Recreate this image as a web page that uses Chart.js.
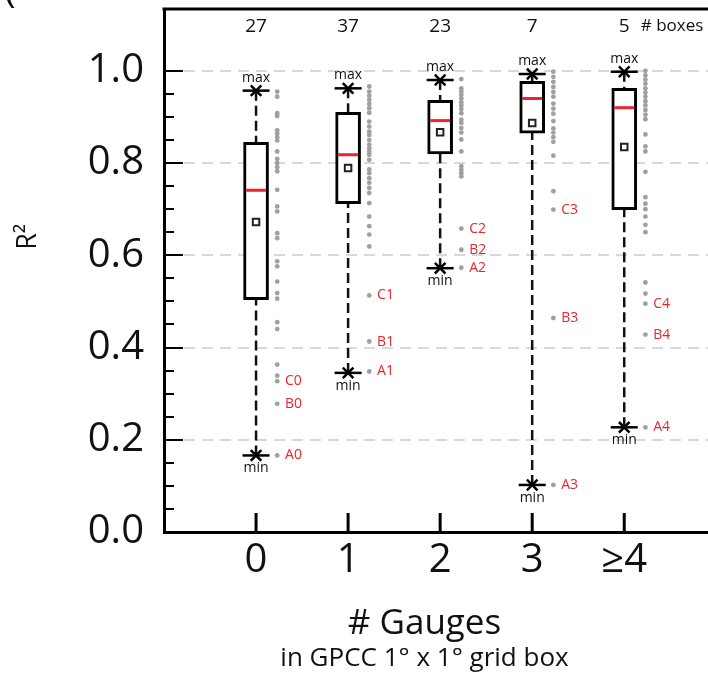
<!DOCTYPE html>
<html>
<head>
<meta charset="utf-8">
<script src="https://cdn.jsdelivr.net/npm/chart.js@4/dist/chart.umd.min.js"></script>
<style>
  html, body { margin: 0; padding: 0; background: #fff; overflow: hidden; }
  canvas { display: block; }
</style>
</head>
<body>
<canvas id="boxChart" width="708" height="682"></canvas>
<script>
"use strict";

// categories (# gauges) and number of grid boxes
var categories = [ "0", "1", "2", "3", "\u22654" ];
var boxCounts = [ 27, 37, 23, 7, 5 ];
var yTicks = [ 0.0, 0.2, 0.4, 0.6, 0.8, 1.0 ];

// box statistics
var maxVals    = [ 0.957, 0.962, 0.980, 0.993, 0.998 ];
var q3Vals     = [ 0.845, 0.910, 0.936, 0.977, 0.962 ];
var medianVals = [ 0.741, 0.818, 0.892, 0.940, 0.920 ];
var meanVals   = [ 0.672, 0.789, 0.867, 0.887, 0.835 ];
var q1Vals     = [ 0.504, 0.712, 0.820, 0.865, 0.699 ];
var minVals    = [ 0.166, 0.345, 0.572, 0.102, 0.227 ];

// individual values next to each box
var dots0 = [ 0.955, 0.944, 0.908, 0.902, 0.871, 0.864, 0.856, 0.849, 0.825, 0.809, 0.800, 0.791, 0.782, 0.742, 0.706, 0.695, 0.648, 0.637, 0.587, 0.576, 0.543, 0.518, 0.506, 0.455, 0.440, 0.363, 0.339, 0.327, 0.278, 0.166 ];
var dots1 = [ 0.966, 0.955, 0.946, 0.937, 0.928, 0.919, 0.909, 0.890, 0.879, 0.868, 0.861, 0.850, 0.840, 0.832, 0.825, 0.818, 0.807, 0.786, 0.778, 0.767, 0.757, 0.746, 0.735, 0.713, 0.684, 0.663, 0.645, 0.619, 0.513, 0.413, 0.348 ];
var dots2 = [ 0.982, 0.962, 0.955, 0.948, 0.940, 0.932, 0.925, 0.917, 0.908, 0.894, 0.887, 0.876, 0.866, 0.851, 0.825, 0.793, 0.785, 0.778, 0.771, 0.658, 0.612, 0.573 ];
var dots3 = [ 0.998, 0.987, 0.976, 0.965, 0.954, 0.944, 0.929, 0.918, 0.907, 0.891, 0.875, 0.866, 0.856, 0.846, 0.816, 0.739, 0.699, 0.464, 0.102 ];
var dots4 = [ 1.000, 0.990, 0.981, 0.972, 0.962, 0.953, 0.944, 0.934, 0.925, 0.915, 0.905, 0.895, 0.862, 0.836, 0.825, 0.781, 0.726, 0.712, 0.700, 0.684, 0.666, 0.650, 0.541, 0.517, 0.495, 0.428, 0.227 ];
var allDots = [ dots0, dots1, dots2, dots3, dots4 ];

// labelled points A, B, C
var tagA = [ 0.166, 0.348, 0.573, 0.102, 0.227 ];
var tagB = [ 0.278, 0.413, 0.612, 0.464, 0.428 ];
var tagC = [ 0.327, 0.513, 0.658, 0.699, 0.495 ];

var FONT = "'Open Sans', 'Noto Sans', sans-serif";
var RED = "#e8262b";

var datasets = [];

// dashed whiskers
categories.forEach(function ( c, i ) {
    datasets.push({
        type: 'line',
        data: [ { x: i, y: maxVals[i] }, { x: i, y: q3Vals[i] } ],
        borderColor: "#111", borderWidth: 2.5, borderDash: [ 10, 5 ],
        pointRadius: 0, fill: false, order: 7
    });
    datasets.push({
        type: 'line',
        data: [ { x: i, y: minVals[i] }, { x: i, y: q1Vals[i] } ],
        borderColor: "#111", borderWidth: 2.5, borderDash: [ 10, 5 ],
        pointRadius: 0, fill: false, order: 7
    });
});

// boxes (q1..q3)
datasets.push({
    type: 'bar',
    data: categories.map(function ( c, i ) { return { x: i, y: [ q1Vals[i], q3Vals[i] ] }; }),
    backgroundColor: "#fff", borderColor: "#000", borderWidth: 3,
    borderSkipped: false, barThickness: 25, order: 6
});

// gray dots
allDots.forEach(function ( arr, i ) {
    datasets.push({
        type: 'scatter',
        data: arr.map(function ( v ) { return { x: i + 0.23, y: v }; }),
        pointRadius: 2.4, pointBackgroundColor: "#a0a0a0", pointBorderWidth: 0, order: 4
    });
});

// median
datasets.push({
    type: 'scatter',
    data: categories.map(function ( c, i ) { return { x: i, y: medianVals[i] }; }),
    pointStyle: 'line', pointRadius: 10, pointBorderColor: RED, pointBorderWidth: 3, order: 3
});

// mean
datasets.push({
    type: 'scatter',
    data: categories.map(function ( c, i ) { return { x: i, y: meanVals[i] }; }),
    pointStyle: 'rect', pointRadius: 4.6, pointBackgroundColor: "#fff",
    pointBorderColor: "#222", pointBorderWidth: 2, order: 2
});

// caps at max / min
var capPts = [];
categories.forEach(function ( c, i ) {
    capPts.push({ x: i, y: maxVals[i] }, { x: i, y: minVals[i] });
});
datasets.push({
    type: 'scatter', data: capPts,
    pointStyle: 'line', pointRadius: 13.5, pointBorderColor: "#000", pointBorderWidth: 2.5, order: 1
});
datasets.push({
    type: 'scatter', data: capPts,
    pointStyle: 'crossRot', pointRadius: 7.5, pointBorderColor: "#000", pointBorderWidth: 2.5, order: 1
});

var decor = {
    id: 'decor',
    afterDraw: function ( chart ) {
        var ctx = chart.ctx, a = chart.chartArea;
        var xs = chart.scales.x, ys = chart.scales.y;
        ctx.save();

        // top frame line
        ctx.strokeStyle = "#000";
        ctx.lineWidth = 3;
        ctx.beginPath();
        ctx.moveTo( a.left - 1.5, a.top );
        ctx.lineTo( a.right + 2, a.top );
        ctx.stroke();

        // inward ticks on y axis
        ctx.lineWidth = 2;
        for ( var k = 1; k <= 20; k++ ) {
            var v = k * 0.05;
            var yp = Math.round( ys.getPixelForValue( v ) );
            var len = ( k % 4 === 0 ) ? 19 : 10;
            ctx.beginPath();
            ctx.moveTo( a.left, yp );
            ctx.lineTo( a.left + len, yp );
            ctx.stroke();
        }
        // inward ticks on x axis
        ctx.lineWidth = 3;
        categories.forEach(function ( c, i ) {
            var xp = xs.getPixelForValue( i );
            ctx.beginPath();
            ctx.moveTo( xp, a.bottom );
            ctx.lineTo( xp, a.bottom - 19 );
            ctx.stroke();
        });

        // counts of boxes
        ctx.fillStyle = "#111";
        ctx.textAlign = "center";
        ctx.textBaseline = "middle";
        ctx.font = "19px " + FONT;
        boxCounts.forEach(function ( n, i ) {
            ctx.fillText( String( n ), xs.getPixelForValue( i ), ys.getPixelForValue( 1.096 ) );
        });
        ctx.textAlign = "left";
        ctx.font = "17px " + FONT;
        ctx.fillText( "# boxes", xs.getPixelForValue( 4.18 ), ys.getPixelForValue( 1.096 ) );

        // max / min captions
        ctx.textAlign = "center";
        ctx.font = "14px " + FONT;
        categories.forEach(function ( c, i ) {
            var xp = xs.getPixelForValue( i );
            ctx.fillText( "max", xp, ys.getPixelForValue( maxVals[i] ) - 13 );
            ctx.fillText( "min", xp, ys.getPixelForValue( minVals[i] ) + 13 );
        });

        // red A/B/C tags
        ctx.textAlign = "left";
        ctx.fillStyle = RED;
        ctx.font = "14px " + FONT;
        categories.forEach(function ( c, i ) {
            var xp = xs.getPixelForValue( i + 0.315 );
            ctx.fillText( "A" + i, xp, ys.getPixelForValue( tagA[i] ) );
            ctx.fillText( "B" + i, xp, ys.getPixelForValue( tagB[i] ) );
            ctx.fillText( "C" + i, xp, ys.getPixelForValue( tagC[i] ) );
        });

        // axis titles
        ctx.fillStyle = "#111";
        ctx.textAlign = "center";
        ctx.font = "35px " + FONT;
        ctx.fillText( "# Gauges", xs.getPixelForValue( 1.83 ), 624 );
        ctx.font = "26px " + FONT;
        ctx.fillText( "in GPCC 1\u00b0 x 1\u00b0 grid box", xs.getPixelForValue( 1.83 ), 659 );

        ctx.save();
        ctx.translate( 28, ys.getPixelForValue( 0.64 ) );
        ctx.rotate( -Math.PI / 2 );
        ctx.font = "27px " + FONT;
        ctx.fillText( "R\u00b2", 0, 0 );
        ctx.restore();

        // panel letter fragment
        ctx.font = "40px " + FONT;
        ctx.textAlign = "left";
        ctx.textBaseline = "alphabetic";
        ctx.fillText( "(", 4, 2 );

        ctx.restore();
    }
};

function noPad( s ) {
    s.paddingTop = 0;
    s.paddingBottom = 0;
    s.paddingLeft = 0;
    s.paddingRight = 0;
}

var ctx = document.getElementById( "boxChart" );
var myChart = new Chart( ctx, {
    type: 'scatter',
    data: { datasets: datasets },
    options: {
        responsive: false,
        animation: false,
        events: [],
        layout: { autoPadding: false, padding: { top: 9, right: 0, left: 0, bottom: 0 } },
        plugins: {
            legend: { display: false },
            tooltip: { enabled: false }
        },
        scales: {
            x: {
                type: 'linear',
                min: -1,
                max: 4.91,
                offset: false,
                afterFit: function ( s ) { s.height = 150; noPad( s ); },
                afterBuildTicks: function ( s ) {
                    s.ticks = categories.map(function ( c, i ) { return { value: i }; });
                },
                ticks: {
                    autoSkip: false,
                    maxRotation: 0,
                    padding: 5,
                    color: "#111",
                    font: { family: FONT, size: 40 },
                    callback: function ( v ) { return categories[v]; }
                },
                grid: { display: false, drawTicks: false },
                border: { display: true, color: "#000", width: 3 }
            },
            y: {
                min: 0,
                max: 1.134,
                afterFit: function ( s ) { s.width = 164; noPad( s ); },
                afterBuildTicks: function ( s ) {
                    s.ticks = yTicks.map(function ( v ) { return { value: v }; });
                },
                ticks: {
                    padding: 20,
                    color: "#111",
                    font: { family: FONT, size: 40 },
                    callback: function ( v ) { return Number( v ).toFixed( 1 ); }
                },
                grid: {
                    drawTicks: false,
                    lineWidth: 2,
                    color: function ( c ) { return c.tick && c.tick.value === 0 ? 'rgba(0,0,0,0)' : '#d8d8d8'; }
                },
                border: { display: true, color: "#000", width: 3, dash: [ 11, 7 ] }
            }
        }
    },
    plugins: [ decor ]
});
</script>
</body>
</html>
